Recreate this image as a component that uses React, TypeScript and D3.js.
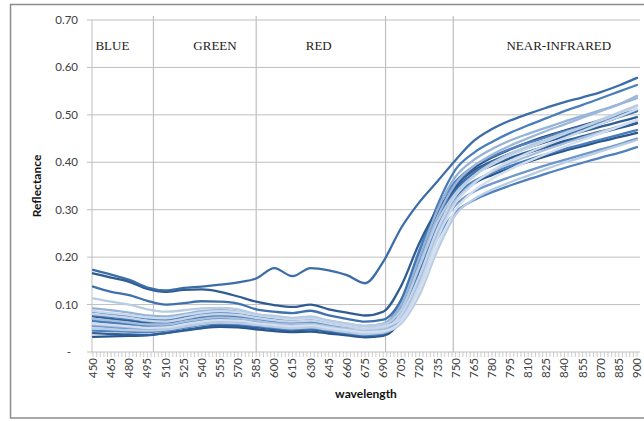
import React from "react";
import * as d3 from "d3";

// wavelength grid (nm)
const wavelengths = [450, 465, 480, 495, 510, 525, 540, 555, 570, 585, 600, 615, 630, 645, 660, 675, 690, 705, 720, 735, 750, 765, 780, 795, 810, 825, 840, 855, 870, 885, 900];

const xTickLabels = [450, 465, 480, 495, 510, 525, 540, 555, 570, 585, 600, 615, 630, 645, 660, 675, 690, 705, 720, 735, 750, 765, 780, 795, 810, 825, 840, 855, 870, 885, 900];
const yTicks = [0, 0.1, 0.2, 0.3, 0.4, 0.5, 0.6, 0.7];
const yTickLabels = ["-", "0.10", "0.20", "0.30", "0.40", "0.50", "0.60", "0.70"];
const bandEdges = [500, 585, 692, 748];
const bandNames = ["BLUE", "GREEN", "RED", "NEAR-INFRARED"];
const bandLabelAt = [452, 533, 626, 792];

// reflectance spectra
const sBump = [0.173, 0.163, 0.152, 0.136, 0.130, 0.135, 0.138, 0.142, 0.147, 0.155, 0.177, 0.160, 0.177, 0.172, 0.162, 0.145, 0.190, 0.262, 0.316, 0.360, 0.405, 0.445, 0.470, 0.488, 0.502, 0.515, 0.527, 0.537, 0.548, 0.562, 0.578];
const sHigh = [0.166, 0.157, 0.148, 0.133, 0.127, 0.131, 0.132, 0.127, 0.117, 0.106, 0.099, 0.095, 0.100, 0.090, 0.083, 0.077, 0.085, 0.140, 0.230, 0.300, 0.345, 0.375, 0.393, 0.408, 0.420, 0.432, 0.443, 0.452, 0.462, 0.472, 0.482];
const sMid = [0.138, 0.127, 0.120, 0.108, 0.100, 0.103, 0.107, 0.106, 0.102, 0.090, 0.085, 0.082, 0.087, 0.077, 0.070, 0.064, 0.068, 0.110, 0.205, 0.285, 0.340, 0.378, 0.400, 0.418, 0.432, 0.446, 0.458, 0.470, 0.482, 0.495, 0.508];
const sLight = [0.113, 0.106, 0.100, 0.090, 0.085, 0.088, 0.092, 0.093, 0.090, 0.080, 0.076, 0.072, 0.075, 0.066, 0.060, 0.055, 0.058, 0.090, 0.180, 0.275, 0.335, 0.372, 0.398, 0.418, 0.434, 0.448, 0.462, 0.475, 0.490, 0.505, 0.520];
const sB1 = [0.092, 0.088, 0.083, 0.077, 0.075, 0.080, 0.086, 0.088, 0.085, 0.079, 0.074, 0.071, 0.073, 0.066, 0.060, 0.055, 0.060, 0.100, 0.200, 0.300, 0.370, 0.405, 0.428, 0.446, 0.460, 0.473, 0.486, 0.498, 0.510, 0.522, 0.535];
const sB2 = [0.085, 0.080, 0.076, 0.070, 0.068, 0.074, 0.080, 0.083, 0.080, 0.074, 0.069, 0.066, 0.069, 0.062, 0.056, 0.051, 0.055, 0.110, 0.215, 0.305, 0.360, 0.392, 0.412, 0.428, 0.441, 0.453, 0.465, 0.476, 0.487, 0.498, 0.508];
const sB3 = [0.080, 0.076, 0.072, 0.066, 0.064, 0.070, 0.077, 0.080, 0.078, 0.072, 0.067, 0.064, 0.066, 0.060, 0.054, 0.049, 0.052, 0.080, 0.160, 0.260, 0.330, 0.370, 0.395, 0.414, 0.430, 0.445, 0.460, 0.474, 0.488, 0.503, 0.518];
const sB4 = [0.075, 0.070, 0.066, 0.061, 0.060, 0.066, 0.072, 0.075, 0.073, 0.068, 0.063, 0.060, 0.062, 0.056, 0.051, 0.047, 0.050, 0.090, 0.190, 0.290, 0.350, 0.383, 0.402, 0.418, 0.431, 0.443, 0.454, 0.465, 0.475, 0.485, 0.495];
const sB5 = [0.070, 0.066, 0.062, 0.058, 0.058, 0.064, 0.070, 0.073, 0.071, 0.066, 0.061, 0.058, 0.060, 0.054, 0.049, 0.045, 0.048, 0.075, 0.150, 0.250, 0.320, 0.357, 0.380, 0.398, 0.413, 0.427, 0.440, 0.452, 0.464, 0.476, 0.488];
const sB6 = [0.065, 0.061, 0.058, 0.054, 0.054, 0.060, 0.066, 0.069, 0.067, 0.062, 0.058, 0.055, 0.057, 0.052, 0.047, 0.043, 0.046, 0.085, 0.175, 0.270, 0.330, 0.360, 0.378, 0.392, 0.405, 0.417, 0.428, 0.438, 0.448, 0.458, 0.468];
const sB7 = [0.060, 0.057, 0.054, 0.051, 0.052, 0.058, 0.064, 0.067, 0.066, 0.061, 0.057, 0.054, 0.056, 0.051, 0.046, 0.042, 0.044, 0.065, 0.130, 0.225, 0.300, 0.340, 0.365, 0.385, 0.402, 0.418, 0.433, 0.447, 0.461, 0.475, 0.490];
const sB8 = [0.055, 0.052, 0.050, 0.048, 0.049, 0.055, 0.061, 0.064, 0.063, 0.059, 0.055, 0.052, 0.054, 0.049, 0.044, 0.040, 0.043, 0.075, 0.160, 0.255, 0.310, 0.338, 0.355, 0.369, 0.382, 0.394, 0.405, 0.416, 0.427, 0.438, 0.450];
const sB9 = [0.050, 0.048, 0.046, 0.045, 0.047, 0.053, 0.059, 0.062, 0.061, 0.057, 0.053, 0.050, 0.052, 0.047, 0.042, 0.038, 0.041, 0.060, 0.120, 0.215, 0.290, 0.322, 0.342, 0.358, 0.372, 0.386, 0.399, 0.411, 0.423, 0.435, 0.447];
const sB10 = [0.045, 0.044, 0.043, 0.042, 0.045, 0.051, 0.057, 0.060, 0.059, 0.055, 0.051, 0.048, 0.050, 0.045, 0.040, 0.036, 0.039, 0.070, 0.150, 0.240, 0.295, 0.320, 0.337, 0.351, 0.364, 0.376, 0.388, 0.399, 0.410, 0.420, 0.432];
const sD1 = [0.040, 0.038, 0.037, 0.036, 0.040, 0.046, 0.052, 0.056, 0.055, 0.052, 0.048, 0.046, 0.047, 0.043, 0.038, 0.034, 0.037, 0.080, 0.180, 0.280, 0.345, 0.375, 0.394, 0.409, 0.422, 0.434, 0.445, 0.455, 0.465, 0.474, 0.483];
const sD2 = [0.032, 0.033, 0.034, 0.035, 0.040, 0.045, 0.050, 0.053, 0.052, 0.048, 0.044, 0.042, 0.043, 0.039, 0.035, 0.031, 0.034, 0.070, 0.165, 0.265, 0.325, 0.355, 0.373, 0.388, 0.401, 0.413, 0.424, 0.434, 0.444, 0.453, 0.462];
const sD3 = [0.068, 0.064, 0.060, 0.056, 0.055, 0.061, 0.067, 0.070, 0.068, 0.063, 0.059, 0.056, 0.058, 0.053, 0.048, 0.044, 0.047, 0.090, 0.195, 0.290, 0.355, 0.388, 0.410, 0.427, 0.442, 0.455, 0.467, 0.478, 0.489, 0.500, 0.510];
const sL1 = [0.086, 0.082, 0.078, 0.073, 0.071, 0.077, 0.083, 0.086, 0.084, 0.078, 0.073, 0.069, 0.071, 0.064, 0.058, 0.053, 0.055, 0.070, 0.140, 0.240, 0.315, 0.355, 0.382, 0.403, 0.420, 0.436, 0.451, 0.466, 0.481, 0.496, 0.512];
const sL2 = [0.058, 0.055, 0.052, 0.050, 0.051, 0.057, 0.063, 0.066, 0.065, 0.060, 0.056, 0.053, 0.055, 0.050, 0.045, 0.041, 0.043, 0.085, 0.185, 0.285, 0.355, 0.392, 0.416, 0.435, 0.451, 0.466, 0.480, 0.494, 0.508, 0.522, 0.540];
const sT2 = [0.078, 0.074, 0.070, 0.065, 0.063, 0.069, 0.075, 0.078, 0.076, 0.070, 0.065, 0.062, 0.064, 0.058, 0.052, 0.048, 0.052, 0.095, 0.205, 0.310, 0.385, 0.420, 0.443, 0.462, 0.478, 0.493, 0.508, 0.521, 0.535, 0.549, 0.563];

const seriesValues = [sD2, sD1, sD3, sB4, sB6, sB10, sB2, sB8, sT2, sHigh, sMid, sB1, sB5, sL2, sB9, sB3, sB7, sL1, sLight, sBump];
const seriesColors = ["#2B568C", "#30609A", "#24497A", "#2F5D93", "#4A7EBB", "#4F81BD", "#4F81BD", "#6F97CB", "#4A7EBB", "#2F5D93", "#3F71AE", "#95B3D7", "#A7BFDF", "#9DB7DB", "#B8CCE4", "#C6D5EA", "#D3DFEF", "#CBD9EC", "#B8CCE4", "#3C6DA8"];

const W = 644;
const H = 421;
const left = 92;
const top = 20;
const bottom = 352;
const right = 640;

export default function App() {
  const x = d3.scaleLinear().domain([450, 900]).range([93, 637]);
  const y = d3.scaleLinear().domain([0, 0.7]).range([bottom, top]);
  const line = d3
    .line<number>()
    .x((_, i) => x(wavelengths[i]))
    .y((v) => y(v))
    .curve(d3.curveMonotoneX);
  const minorTicks = d3.range(450, 901, 3);
  const grid = "#BFBFBF";
  const labelFont = "Lato, 'Liberation Sans', sans-serif";

  return (
    <svg width={W} height={H} style={{ position: "absolute", left: 0, top: 0 }}>
      <rect x={0} y={0} width={W} height={H} fill="#fff" />
      <rect x={10.5} y={4.5} width={650} height={413.5} fill="none" stroke="#8C8C8C" strokeWidth={1.5} />
      {/* horizontal gridlines */}
      {yTicks.slice(1).map((t) => (
        <line key={"g" + t} x1={left} x2={right} y1={y(t)} y2={y(t)} stroke={grid} strokeWidth={1} />
      ))}
      {/* band separators */}
      {bandEdges.map((b) => (
        <line key={"b" + b} x1={x(b)} x2={x(b)} y1={top - 4} y2={bottom} stroke={grid} strokeWidth={1.2} />
      ))}
      {/* axes */}
      <line x1={left} x2={left} y1={top} y2={bottom} stroke={grid} />
      <line x1={left} x2={right} y1={bottom} y2={bottom} stroke={grid} />
      {yTicks.map((t) => (
        <line key={"yt" + t} x1={left - 5} x2={left} y1={y(t)} y2={y(t)} stroke={grid} />
      ))}
      {minorTicks.map((t) => (
        <line key={"xt" + t} x1={x(t)} x2={x(t)} y1={bottom} y2={bottom + 5} stroke={grid} strokeWidth={0.8} />
      ))}
      {/* y labels */}
      {yTicks.map((t, i) => (
        <text
          key={"yl" + t}
          x={i === 0 ? 69 : 78}
          y={y(t)}
          dy="0.35em"
          textAnchor={i === 0 ? "middle" : "end"}
          fontFamily={labelFont}
          fontSize={11.5}
          fill="#404040"
        >
          {yTickLabels[i]}
        </text>
      ))}
      {/* x labels */}
      {xTickLabels.map((t) => (
        <text
          key={"xl" + t}
          transform={`translate(${x(t)},${bottom + 6}) rotate(-90)`}
          dy="0.35em"
          textAnchor="end"
          fontFamily={labelFont}
          fontSize={11.5}
          fill="#404040"
        >
          {t}
        </text>
      ))}
      {/* band labels */}
      {bandNames.map((n, i) => (
        <text
          key={n}
          x={x(bandLabelAt[i])}
          y={50}
          fontFamily="'Liberation Serif', 'Times New Roman', serif"
          fontSize={13}
          fill="#222"
        >
          {n}
        </text>
      ))}
      {/* series */}
      <g fill="none" strokeWidth={2.3} strokeLinejoin="round" strokeLinecap="round">
        {seriesValues.map((s, i) => (
          <path key={"s" + i} d={line(s) || ""} stroke={seriesColors[i]} />
        ))}
      </g>
      {/* axis titles */}
      <text x={366} y={398} textAnchor="middle" fontFamily={labelFont} fontWeight="bold" fontSize={12} fill="#111">
        wavelength
      </text>
      <text
        transform={`translate(41,${(top + bottom) / 2}) rotate(-90)`}
        textAnchor="middle"
        fontFamily={labelFont}
        fontWeight="bold"
        fontSize={12}
        fill="#111"
      >
        Reflectance
      </text>
    </svg>
  );
}
